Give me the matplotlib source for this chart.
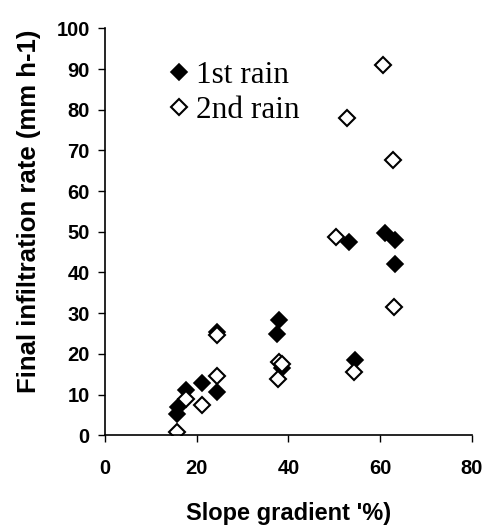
import matplotlib
matplotlib.use("Agg")
import matplotlib.pyplot as plt

# slope gradient (%) and final infiltration rate (mm h-1)
slope_1st = [15.8, 16.0, 17.7, 21.2, 24.4, 24.4, 38.0, 37.5, 38.5, 53.3, 54.5, 61.1, 63.3, 63.3]
rate_1st  = [5.3, 7.0, 11.1, 12.9, 10.6, 25.4, 28.3, 25.0, 16.4, 47.5, 18.4, 49.6, 48.1, 42.2]

slope_2nd = [15.8, 17.7, 21.2, 24.4, 24.4, 38.0, 37.7, 38.5, 50.4, 52.7, 54.3, 60.7, 62.9, 63.1]
rate_2nd  = [0.8, 9.0, 7.4, 14.5, 24.6, 18.0, 13.9, 17.5, 48.7, 78.0, 15.6, 91.1, 67.7, 31.4]

x_ticks = [0, 20, 40, 60, 80]
y_ticks = list(range(0, 101, 10))

fig = plt.figure(figsize=(4.88, 5.25), dpi=100)
ax = fig.add_axes([0.215, 0.171, 0.752, 0.775])

ax.plot(slope_1st, rate_1st, "D", color="black", markersize=8.5,
        markeredgewidth=1.2, label="1st rain", linestyle="none")
ax.plot(slope_2nd, rate_2nd, "D", markerfacecolor="white", markeredgecolor="black",
        markersize=8.5, markeredgewidth=1.5, label="2nd rain", linestyle="none")

ax.set_xlim(0, 80)
ax.set_ylim(0, 100)
ax.set_xticks(x_ticks)
ax.set_yticks(y_ticks)
ax.spines["top"].set_visible(False)
ax.spines["right"].set_visible(False)
for s in ("left", "bottom"):
    ax.spines[s].set_linewidth(1.2)
ax.tick_params(direction="out", length=5, width=1.0, labelsize=14.5)
ax.tick_params(axis="x", pad=12)
ax.tick_params(axis="y", pad=6)
for lab in ax.get_xticklabels() + ax.get_yticklabels():
    lab.set_fontweight("bold")
    lab.set_family("Liberation Sans")

ax.set_xlabel("Slope gradient '%)", fontsize=17, fontweight="bold",
              family="Liberation Sans")
ax.set_ylabel("Final infiltration rate (mm h-1)", fontsize=18.5, fontweight="bold",
              family="Liberation Sans")
# label placement as in the original figure
ax.xaxis.set_label_coords(0.5, -0.163)
ax.yaxis.set_label_coords(-0.175, 0.55)

ax.legend(loc="upper left", bbox_to_anchor=(0.095, 0.99), frameon=False,
          prop={"family": "Liberation Serif", "size": 22.5},
          handlelength=0.7, handletextpad=0.2, labelspacing=0.2,
          markerscale=0.95)

fig.savefig("out.png", dpi=100)
